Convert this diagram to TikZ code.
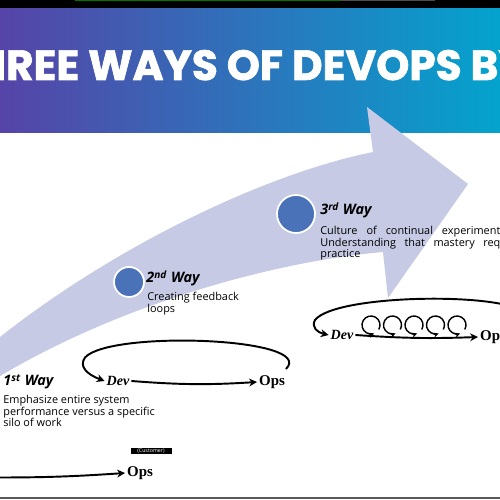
\documentclass[tikz,border=0pt]{standalone}
\usepackage{fontspec}
\setmainfont{Open Sans}
\newfontfamily\titlefont{Poppins}[BoldFeatures={FakeBold=1.6}]
\newfontfamily\cursfont{Liberation Serif}
\usepackage{tikz}
\usetikzlibrary{positioning, arrows.meta, calc}
\usepackage{xcolor}
\definecolor{bandleft}{RGB}{86,68,168}
\definecolor{bandmid}{RGB}{40,110,185}
\definecolor{bandright}{RGB}{4,163,206}
\definecolor{lavender}{RGB}{198,202,228}
\definecolor{dotblue}{RGB}{74,114,184}

\begin{document}
\begin{tikzpicture}[
    waydot/.style={circle, fill=dotblue, draw=white, line width=1pt, inner sep=0pt},
    waytitle/.style={font=\fontsize{8.2}{9}\selectfont\bfseries\itshape, anchor=base west, inner sep=0pt},
    waytext/.style={font=\fontsize{6.2}{6.6}\selectfont, align=left, anchor=north west, inner sep=0pt},
    devname/.style={font=\cursfont\fontsize{8}{9}\selectfont\bfseries\itshape, inner sep=1pt},
    opsname/.style={font=\cursfont\fontsize{8.5}{9}\selectfont\bfseries, inner sep=1pt},
    flow/.style={line width=1.1pt, -{Stealth[length=4.5pt,width=4.5pt]}},
    coil/.style={line width=0.8pt, -{Stealth[length=3pt,width=3pt]}}]
          \useasboundingbox (0.0, 0.0) rectangle (10.0, 10.0);
          \clip (0.0, 0.0) rectangle (10.0, 10.0);
          \fill[white] (0.0, 0.0) rectangle (10.0, 10.0);

          % 子圖形 header (類型: band)
          \begin{scope}[shift={(0.0, 0.0)}]
            % 頂條
            \fill[black] (0.0, 9.82) rectangle (10.0, 10.0);
            \draw[green!45!black, line width=0.6pt] (1.5, 9.99) -- (6.8, 9.99);
            \draw[gray!60!black, line width=0.6pt] (6.8, 9.99) -- (8.7, 9.99);
            % 漸層
            \shade[left color=bandleft, middle color=bandmid, right color=bandright]
              (0.0, 7.34) rectangle (10.0, 9.82);
            \node[anchor=base west, inner sep=0pt, white,
                  font=\titlefont\fontsize{24}{27}\selectfont\bfseries] (title)
              at (-1.0, 8.4) {THREE WAYS OF DEVOPS BY};
          \end{scope}

          % 子圖形 arrow (類型: shape)
          \begin{scope}[shift={(0.0, 0.0)}]
            % 大箭頭
            \fill[lavender] (0.0, 3.26) .. controls (2.2, 5.0) and (5.2, 6.5) .. (7.46, 6.96)
              -- (7.34, 7.86) -- (9.36, 6.32) -- (7.76, 4.04) -- (7.66, 4.96)
              .. controls (5.4, 4.76) and (2.4, 3.9) .. (0.0, 2.48) -- cycle;
          \end{scope}

          % 子圖形 ways (類型: label)
          \begin{scope}[shift={(0.0, 0.0)}]
            % 點
            \node[waydot, minimum size=0.6cm] (dot2) at (2.58, 4.36) {};
            \node[waydot, minimum size=0.76cm] (dot3) at (5.92, 5.72) {};
            % 標籤
            \node[waytitle] (way1) at (0.06, 2.28) {1\textsuperscript{st} Way};
            \node[waytext] (text1) at (0.06, 2.1)
              {Emphasize entire system\\performance versus a specific\\silo of work};
            \node[waytitle] (way2) at (2.92, 4.34) {2\textsuperscript{nd} Way};
            \node[waytext] (text2) at (2.94, 4.16) {Creating feedback\\loops};
            \node[waytitle] (way3) at (6.4, 5.7) {3\textsuperscript{rd} Way};
            \node[waytext, text width=3.6cm] (text3) at (6.4, 5.48)
              {Culture\hfill of\hfill continual\hfill experiment\\
               Understanding\hfill that\hfill mastery\hfill req\\practice};
          \end{scope}

          % 子圖形 loop1 (類型: flow)
          \begin{scope}[shift={(0.0, 0.0)}]
            \coordinate (in1) at (-0.2, 0.45);
            \node[opsname] (ops1) at (2.8, 0.54) {Ops};
            \node[fill=black, text=white, inner sep=0.6pt, minimum width=0.82cm,
                  font=\fontsize{3}{3.5}\selectfont] (cust) at (3.02, 0.98) {(Customer)};
            \draw[flow] (in1) to[bend right=2] (ops1.west);
          \end{scope}

          % 子圖形 loop2 (類型: flow)
          \begin{scope}[shift={(0.0, 0.0)}]
            \node[devname] (dev2) at (2.36, 2.38) {Dev};
            \node[opsname] (ops2) at (5.44, 2.36) {Ops};
            \coordinate (fb2) at (5.72, 2.62);
            \draw[flow] (dev2.east) to[bend right=4] (ops2.west);
            \draw[flow] (fb2) .. controls (6.35, 3.25) and (2.2, 3.4) .. (1.7, 2.85)
              .. controls (1.58, 2.68) and (1.72, 2.52) .. (dev2.west);
          \end{scope}

          % 子圖形 loop3 (類型: flow)
          \begin{scope}[shift={(0.0, 0.0)}]
            \node[devname] (dev3) at (6.84, 3.3) {Dev};
            \node[opsname] (ops3) at (9.86, 3.26) {Ops};
            \coordinate (fb3) at (10.4, 3.8);
            \draw[flow] (dev3.east) to[bend right=3] (ops3.west);
            \draw[flow] (fb3) .. controls (9.8, 4.15) and (6.7, 4.1) .. (6.3, 3.6)
              .. controls (6.22, 3.45) and (6.35, 3.35) .. (dev3.west);
            % 小迴圈
            \foreach \x in {7.42, 7.85, 8.28, 8.71, 9.14}
              \draw[coil] ([shift={(-30:0.18)}]\x, 3.5) arc[start angle=-30, end angle=290, radius=0.18];
          \end{scope}

          % 子圖形 footer (類型: line)
          \draw[gray!70!black, line width=1pt] (0.0, 0.04) -- (10.0, 0.04);
        \end{tikzpicture}
\end{document}
